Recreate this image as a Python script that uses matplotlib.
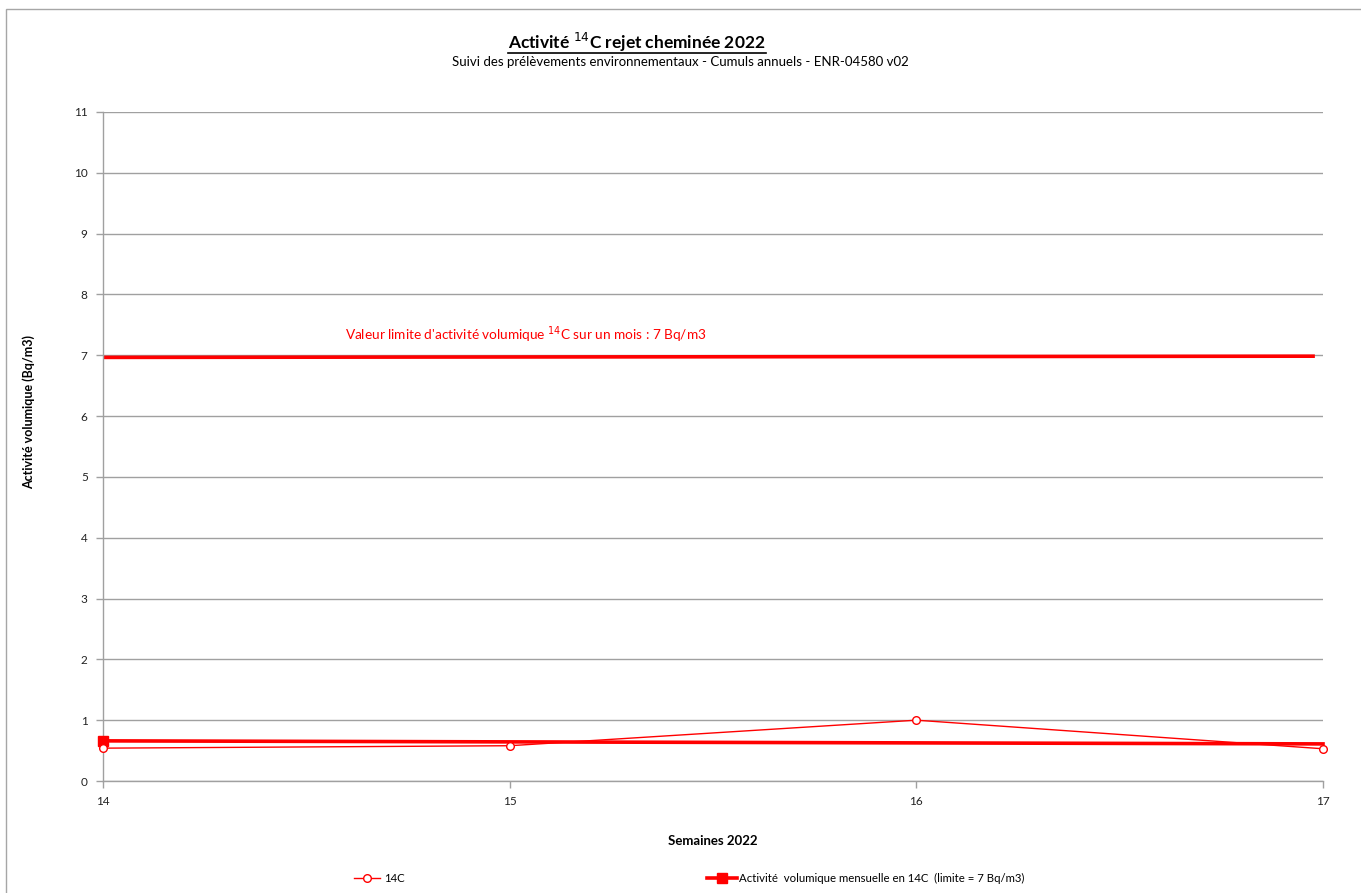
import matplotlib
matplotlib.use("Agg")
import matplotlib.pyplot as plt
from matplotlib import font_manager as fm
from matplotlib.lines import Line2D
from matplotlib.patches import Rectangle

files = fm.findSystemFonts()
def find(name):
    for f in files:
        if f.split('/')[-1].lower() == name.lower():
            return f
    return None

reg_file = find('Lato-Regular.ttf')
bold_file = find('Lato-Bold.ttf')
if reg_file:
    fm.fontManager.addfont(reg_file)
    REG = fm.FontProperties(fname=reg_file)
else:
    REG = fm.FontProperties(family='Liberation Sans')
if bold_file:
    fm.fontManager.addfont(bold_file)
    BOLD = fm.FontProperties(fname=bold_file)
else:
    BOLD = fm.FontProperties(family='Liberation Sans', weight='bold')
REG_NAME = REG.get_name() if reg_file else 'Liberation Sans'
plt.rcParams['font.family'] = [REG_NAME, 'DejaVu Sans']
plt.rcParams['mathtext.fontset'] = 'custom'
plt.rcParams['mathtext.rm'] = REG_NAME

weeks = [14, 15, 16, 17]
c14_values = [0.54, 0.58, 1.00, 0.53]
monthly_weeks = [14, 17]
monthly_values = [0.66, 0.61]
limit_x = [14, 16.98]
limit_y = [6.965, 6.985]
yticks = list(range(0, 12))
xticks = [14, 15, 16, 17]

def fp(base, size):
    p = base.copy()
    p.set_size(size)
    return p

W, H = 1361, 893
fig = plt.figure(figsize=(W / 100, H / 100), dpi=100)
fig.patch.set_facecolor('white')

fig.add_artist(Rectangle((6 / W, -0.1), 1.2, 1 - 9 / H + 0.1, transform=fig.transFigure,
                         fill=False, edgecolor='#a6a6a6', linewidth=1.0))

ax = fig.add_axes([103 / W, 1 - 781 / H, (1323 - 103) / W, (781 - 112) / H])
ax.set_xlim(14, 17)
ax.set_ylim(0, 11)
ax.set_xticks(xticks)
ax.set_yticks(yticks)
ax.grid(axis='y', color='#a0a0a0', linewidth=1.0)
ax.set_axisbelow(True)
for s in ['top', 'right']:
    ax.spines[s].set_visible(False)
for s in ['left', 'bottom']:
    ax.spines[s].set_color('#a0a0a0')
    ax.spines[s].set_linewidth(1.0)
ax.tick_params(axis='both', colors='#a0a0a0', labelcolor='#222222',
               length=5, width=1.0, direction='out', pad=6)
for lab in ax.get_xticklabels() + ax.get_yticklabels():
    lab.set_fontproperties(fp(REG, 8.5))

ax.plot(limit_x, limit_y, color='#ff0000', linewidth=2.6, solid_capstyle='butt', clip_on=False)

l1, = ax.plot(weeks, c14_values, color='#ff0000', linewidth=1.0, marker='o', markersize=5.5,
              markerfacecolor='white', markeredgecolor='#ff0000', markeredgewidth=1.0,
              label='14C', clip_on=False, zorder=4)
l2, = ax.plot(monthly_weeks, monthly_values, color='#ff0000', linewidth=2.6, marker='s', markersize=7,
              markevery=[0], markerfacecolor='#ff0000', markeredgecolor='#ff0000',
              label='Activité  volumique mensuelle en 14C  (limite = 7 Bq/m3)', clip_on=False, zorder=3)

ax.text(15.04, 7.34, "Valeur limite d'activité volumique $^{\\mathrm{14}}$C sur un mois : 7 Bq/m3",
        color='#ff0000', fontproperties=fp(REG, 9.8), ha='center', va='center')

ax.set_ylabel('Activité volumique (Bq/m3)', fontproperties=fp(BOLD, 9))
ax.yaxis.set_label_coords(-(103 - 35) / (1323 - 103), (781 - 412) / (781 - 112))
ax.set_xlabel('Semaines 2022', fontproperties=fp(BOLD, 9.5))
ax.xaxis.set_label_coords(0.5, -(835 - 781) / (781 - 112))

title = fig.text(637 / W, 1 - 42 / H, 'Activité $^{\\mathrm{14}}$C rejet cheminée 2022',
                 fontproperties=fp(BOLD, 12.5), ha='center', va='center')
fig.text(0.5, 1 - 62 / H, 'Suivi des prélèvements environnementaux - Cumuls annuels - ENR-04580 v02',
         fontproperties=fp(REG, 9.5), ha='center', va='center')

leg1 = fig.legend(handles=[l1], loc='center left', bbox_to_anchor=(354 / W, 1 - 878 / H),
                  frameon=False, prop=fp(REG, 8.2), handlelength=2.3, handletextpad=0.3,
                  borderaxespad=0, borderpad=0)
leg2 = fig.legend(handles=[l2], loc='center left', bbox_to_anchor=(707 / W, 1 - 878 / H),
                  frameon=False, prop=fp(REG, 8.2), handlelength=2.6, handletextpad=0.2,
                  borderaxespad=0, borderpad=0)

fig.canvas.draw()
r = fig.canvas.get_renderer()
bb = title.get_window_extent(r)
yline = bb.y0 + 1
fig.add_artist(Line2D([bb.x0 / W, bb.x1 / W], [yline / H, yline / H], transform=fig.transFigure,
                      color='black', linewidth=1.2))

fig.savefig('out.png', dpi=100, facecolor='white')
